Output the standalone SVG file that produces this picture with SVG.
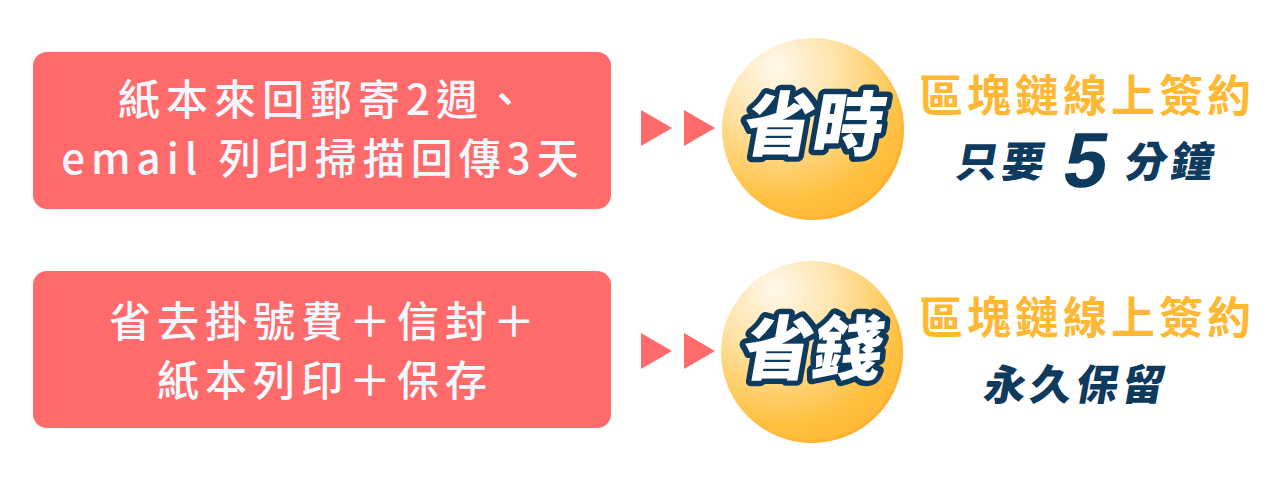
<svg xmlns="http://www.w3.org/2000/svg" width="1280" height="480" viewBox="0 0 1280 480">
<defs>
<radialGradient id="ball" cx="0.32" cy="0.2" r="0.95" fx="0.3" fy="0.15">
<stop offset="0" stop-color="#FFF8EC"/>
<stop offset="0.35" stop-color="#FFE3A8"/>
<stop offset="0.75" stop-color="#FFC03F"/>
<stop offset="1" stop-color="#FFB52E"/>
</radialGradient>
<linearGradient id="rim" x1="0" y1="0" x2="1" y2="1">
<stop offset="0.5" stop-color="#FFB52E" stop-opacity="0"/>
<stop offset="1" stop-color="#FFA633" stop-opacity="1"/>
</linearGradient>
<style>
.box{fill:#FF6B6B;}
.boxt{font-family:"Noto Sans CJK TC","Noto Sans CJK SC",sans-serif;font-size:42px;font-weight:500;fill:#F4F9FF;letter-spacing:6px;text-anchor:middle;}
.arr{fill:#FF6B6B;}
.big{font-family:"Noto Sans CJK TC","Noto Sans CJK SC",sans-serif;font-size:70px;font-weight:900;fill:#FFFFFF;stroke:#0E3A5E;stroke-width:11px;stroke-linejoin:round;paint-order:stroke fill;text-anchor:middle;}
.yel{font-family:"Noto Sans CJK TC","Noto Sans CJK SC",sans-serif;font-size:44px;font-weight:700;fill:#FFB833;letter-spacing:4px;text-anchor:middle;}
.nav{font-family:"Noto Sans CJK TC","Noto Sans CJK SC",sans-serif;font-size:42px;font-weight:900;fill:#0E3A5E;letter-spacing:4px;}
.five{font-family:"Liberation Sans","Noto Sans",sans-serif;font-size:78px;font-weight:700;fill:#0E3A5E;}
</style>
</defs>
<g id="box-time">
<rect class="box" x="33" y="52" width="578" height="157" rx="14"/>
<text class="boxt" x="325" y="115">紙本來回郵寄2週、</text>
<text class="boxt" x="323" y="174">email 列印掃描回傳3天</text>
</g>
<g id="box-money">
<rect class="box" x="33" y="271" width="578" height="157" rx="14"/>
<text class="boxt" x="325" y="337">省去掛號費＋信封＋</text>
<text class="boxt" x="325" y="396">紙本列印＋保存</text>
</g>
<g id="connectors">
<polygon class="arr" points="641,110 672,128 641,146"/>
<polygon class="arr" points="684,110 715,128 684,146"/>
<polygon class="arr" points="641,333 672,351 641,369"/>
<polygon class="arr" points="684,333 715,351 684,369"/>
</g>
<g id="ball-time">
<circle cx="813" cy="129" r="91" fill="url(#ball)"/>
<circle cx="813" cy="129" r="89.5" fill="none" stroke="url(#rim)" stroke-width="3"/>
<text class="big" transform="translate(810,150) skewX(-10)" x="0" y="0">省時</text>
</g>
<g id="ball-money">
<circle cx="812" cy="352" r="91" fill="url(#ball)"/>
<circle cx="812" cy="352" r="89.5" fill="none" stroke="url(#rim)" stroke-width="3"/>
<text class="big" transform="translate(809,374) skewX(-10)" x="0" y="0">省錢</text>
</g>
<g id="label-time">
<text class="yel" x="1087" y="112">區塊鏈線上簽約</text>
<g transform="translate(0,177) skewX(-10)">
<text class="nav" x="954" y="0">只要</text>
<text class="five" x="1062" y="10">5</text>
<text class="nav" x="1123" y="0">分鐘</text>
</g>
</g>
<g id="label-money">
<text class="yel" x="1087" y="334">區塊鏈線上簽約</text>
<g transform="translate(0,400) skewX(-10)">
<text class="nav" x="982" y="0">永久保留</text>
</g>
</g>
</svg>
